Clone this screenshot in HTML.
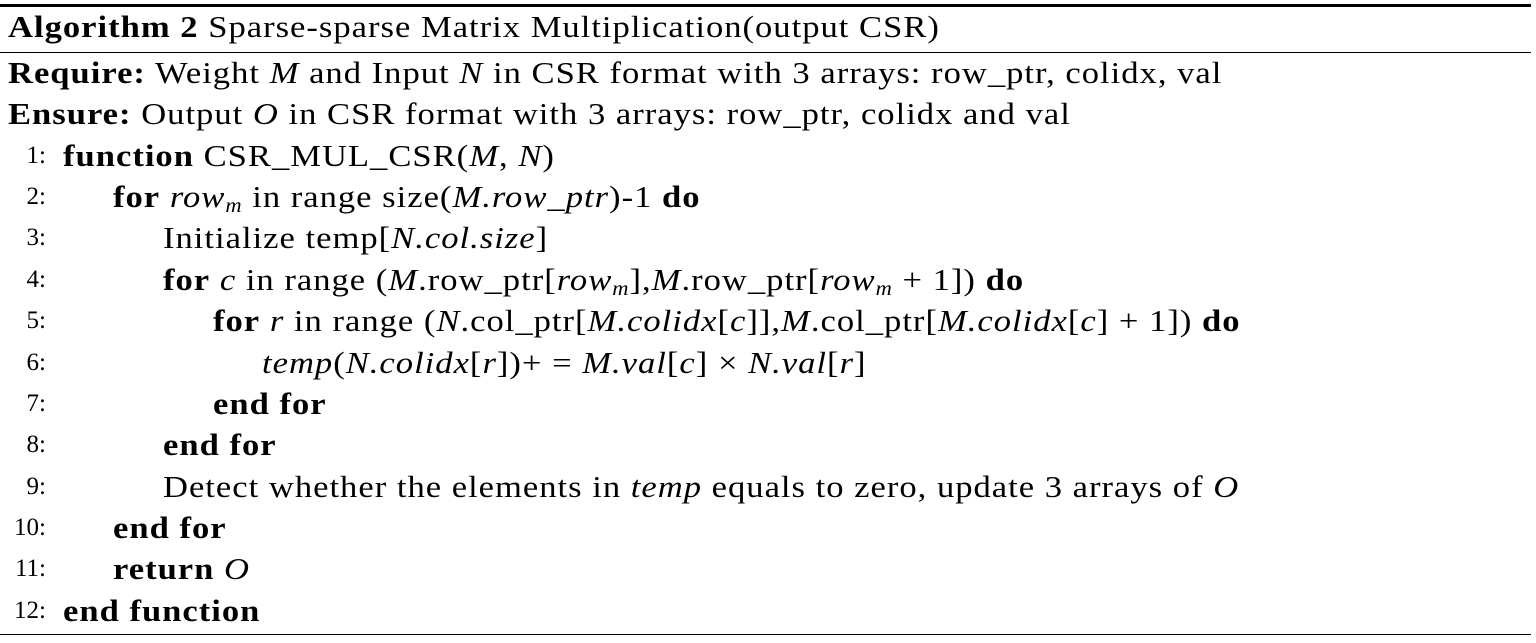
<!DOCTYPE html>
<html><head><meta charset="utf-8"><style>
html,body{margin:0;padding:0;background:#fff;}
body{width:1536px;height:643px;position:relative;overflow:hidden;font-family:"Liberation Serif",serif;color:#000;}
.l{position:absolute;white-space:nowrap;font-size:31px;line-height:30px;letter-spacing:0.9px;transform:scaleX(1.115);transform-origin:0 50%;}
.n{position:absolute;white-space:nowrap;font-size:25px;line-height:30px;text-align:right;width:46px;left:0;}
.rule{position:absolute;left:0;width:1531px;background:#000;}
b{font-weight:bold;}
i{font-style:italic;}
sub{font-size:0.65em;vertical-align:-0.25em;line-height:0;}
</style></head><body>
<div class="rule" style="top:4px;height:3px"></div>
<div class="l" style="left:8px;top:12px"><b>Algorithm 2</b> Sparse-sparse Matrix Multiplication(output CSR)</div>
<div class="rule" style="top:52px;height:1px"></div>
<div class="l" style="left:8px;top:58px"><b>Require:</b> Weight <i>M</i> and Input <i>N</i> in CSR format with 3 arrays: row_ptr, colidx, val</div>
<div class="l" style="left:8px;top:99px"><b>Ensure:</b> Output <i>O</i> in CSR format with 3 arrays: row_ptr, colidx and val</div>

<div class="n" style="top:141px">1:</div>
<div class="l" style="left:63px;top:141px"><b>function</b> CSR_MUL_CSR(<i>M</i>, <i>N</i>)</div>
<div class="n" style="top:182px">2:</div>
<div class="l" style="left:113px;top:182px"><b>for</b> <i>row<sub>m</sub></i> in range size(<i>M.row_ptr</i>)-1 <b>do</b></div>
<div class="n" style="top:223px">3:</div>
<div class="l" style="left:163px;top:223px">Initialize temp[<i>N.col.size</i>]</div>
<div class="n" style="top:265px">4:</div>
<div class="l" style="left:163px;top:265px"><b>for</b> <i>c</i> in range (<i>M</i>.row_ptr[<i>row<sub>m</sub></i>],<i>M</i>.row_ptr[<i>row<sub>m</sub></i> + 1]) <b>do</b></div>
<div class="n" style="top:306px">5:</div>
<div class="l" style="left:213px;top:306px"><b>for</b> <i>r</i> in range (<i>N</i>.col_ptr[<i>M.colidx</i>[<i>c</i>]],<i>M</i>.col_ptr[<i>M.colidx</i>[<i>c</i>] + 1]) <b>do</b></div>
<div class="n" style="top:348px">6:</div>
<div class="l" style="left:262px;top:348px"><i>temp</i>(<i>N.colidx</i>[<i>r</i>])+ = <i>M.val</i>[<i>c</i>] × <i>N.val</i>[<i>r</i>]</div>
<div class="n" style="top:389px">7:</div>
<div class="l" style="left:213px;top:389px"><b>end for</b></div>
<div class="n" style="top:430px">8:</div>
<div class="l" style="left:163px;top:430px"><b>end for</b></div>
<div class="n" style="top:472px">9:</div>
<div class="l" style="left:163px;top:472px">Detect whether the elements in <i>temp</i> equals to zero, update 3 arrays of <i>O</i></div>
<div class="n" style="top:513px">10:</div>
<div class="l" style="left:113px;top:513px"><b>end for</b></div>
<div class="n" style="top:554px">11:</div>
<div class="l" style="left:113px;top:554px"><b>return</b> <i>O</i></div>
<div class="n" style="top:596px">12:</div>
<div class="l" style="left:63px;top:596px"><b>end function</b></div>
<div class="rule" style="top:634px;height:1px"></div>
</body></html>
